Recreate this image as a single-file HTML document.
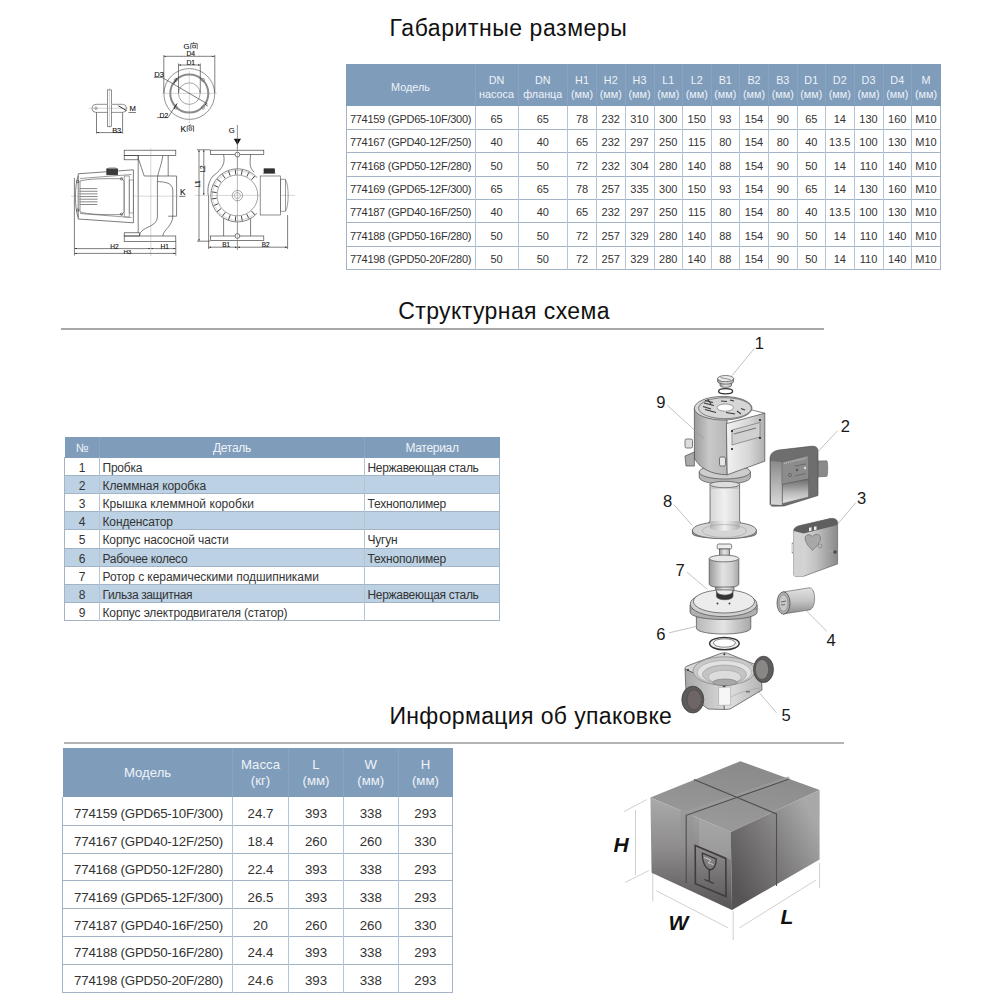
<!DOCTYPE html>
<html><head><meta charset="utf-8"><title>GPD</title><style>
*{margin:0;padding:0;box-sizing:border-box}
html,body{width:1000px;height:1000px;background:#fff;overflow:hidden}
body{position:relative;font-family:"Liberation Sans", sans-serif;color:#333}
.bg{position:absolute}
.c{position:absolute;display:flex;align-items:center;justify-content:center;text-align:center;white-space:nowrap}
.h1c{color:#eef3f9;font-size:10.8px;line-height:14.2px;padding-top:3.5px}
.d1{font-size:11px;padding-top:3px}
.d1m{font-size:11px;letter-spacing:-0.27px;padding-top:3px}
.h2c{color:#eef3f9;font-size:12px;letter-spacing:-0.3px;padding-top:1px}
.d2n{font-size:12px;padding-top:3px}
.d2l{font-size:12px;justify-content:flex-start;padding-left:3px;padding-top:3px}
.h3c{color:#eef3f9;font-size:13.2px;line-height:16px;padding-top:1px}
.d3{font-size:13.3px;padding-top:5px}
.d3m{font-size:13.3px;letter-spacing:-0.22px;padding-top:5px;padding-left:2px}
.t{position:absolute;text-align:center;font-size:23px;letter-spacing:0.3px;color:#111;line-height:28px;white-space:nowrap}
svg{position:absolute}
</style></head>
<body>
<div class="bg" style="left:346px;top:64px;width:594.5px;height:42px;background:#7f9cba"></div><div class="c h1c" style="left:346.0px;top:64.0px;width:129.0px;height:42.0px;">Модель</div><div class="c h1c" style="left:475.0px;top:64.0px;width:43.0px;height:42.0px;">DN<br>насоса</div><div class="c h1c" style="left:518.0px;top:64.0px;width:49.5px;height:42.0px;">DN<br>фланца</div><div class="c h1c" style="left:567.5px;top:64.0px;width:29.0px;height:42.0px;">H1<br>(мм)</div><div class="c h1c" style="left:596.5px;top:64.0px;width:28.5px;height:42.0px;">H2<br>(мм)</div><div class="c h1c" style="left:625.0px;top:64.0px;width:29.0px;height:42.0px;">H3<br>(мм)</div><div class="c h1c" style="left:654.0px;top:64.0px;width:28.5px;height:42.0px;">L1<br>(мм)</div><div class="c h1c" style="left:682.5px;top:64.0px;width:28.5px;height:42.0px;">L2<br>(мм)</div><div class="c h1c" style="left:711.0px;top:64.0px;width:28.5px;height:42.0px;">B1<br>(мм)</div><div class="c h1c" style="left:739.5px;top:64.0px;width:29.0px;height:42.0px;">B2<br>(мм)</div><div class="c h1c" style="left:768.5px;top:64.0px;width:28.5px;height:42.0px;">B3<br>(мм)</div><div class="c h1c" style="left:797.0px;top:64.0px;width:28.5px;height:42.0px;">D1<br>(мм)</div><div class="c h1c" style="left:825.5px;top:64.0px;width:28.5px;height:42.0px;">D2<br>(мм)</div><div class="c h1c" style="left:854.0px;top:64.0px;width:29.0px;height:42.0px;">D3<br>(мм)</div><div class="c h1c" style="left:883.0px;top:64.0px;width:28.5px;height:42.0px;">D4<br>(мм)</div><div class="c h1c" style="left:911.5px;top:64.0px;width:29.0px;height:42.0px;">M<br>(мм)</div><div class="bg" style="left:475px;top:64px;width:1px;height:42px;background:#8aa5c4"></div><div class="bg" style="left:518px;top:64px;width:1px;height:42px;background:#8aa5c4"></div><div class="bg" style="left:567px;top:64px;width:1px;height:42px;background:#8aa5c4"></div><div class="bg" style="left:596px;top:64px;width:1px;height:42px;background:#8aa5c4"></div><div class="bg" style="left:625px;top:64px;width:1px;height:42px;background:#8aa5c4"></div><div class="bg" style="left:654px;top:64px;width:1px;height:42px;background:#8aa5c4"></div><div class="bg" style="left:682px;top:64px;width:1px;height:42px;background:#8aa5c4"></div><div class="bg" style="left:711px;top:64px;width:1px;height:42px;background:#8aa5c4"></div><div class="bg" style="left:739px;top:64px;width:1px;height:42px;background:#8aa5c4"></div><div class="bg" style="left:768px;top:64px;width:1px;height:42px;background:#8aa5c4"></div><div class="bg" style="left:797px;top:64px;width:1px;height:42px;background:#8aa5c4"></div><div class="bg" style="left:825px;top:64px;width:1px;height:42px;background:#8aa5c4"></div><div class="bg" style="left:854px;top:64px;width:1px;height:42px;background:#8aa5c4"></div><div class="bg" style="left:883px;top:64px;width:1px;height:42px;background:#8aa5c4"></div><div class="bg" style="left:911px;top:64px;width:1px;height:42px;background:#8aa5c4"></div><div class="bg" style="left:346px;top:129px;width:595px;height:1px;background:#a3b4c6"></div><div class="bg" style="left:346px;top:152px;width:595px;height:1px;background:#a3b4c6"></div><div class="bg" style="left:346px;top:176px;width:595px;height:1px;background:#a3b4c6"></div><div class="bg" style="left:346px;top:199px;width:595px;height:1px;background:#a3b4c6"></div><div class="bg" style="left:346px;top:222px;width:595px;height:1px;background:#a3b4c6"></div><div class="bg" style="left:346px;top:246px;width:595px;height:1px;background:#a3b4c6"></div><div class="bg" style="left:346px;top:269px;width:595px;height:1px;background:#a3b4c6"></div><div class="bg" style="left:346px;top:106px;width:1px;height:164px;background:#a3b4c6"></div><div class="bg" style="left:475px;top:106px;width:1px;height:164px;background:#b3c4d4"></div><div class="bg" style="left:518px;top:106px;width:1px;height:164px;background:#b3c4d4"></div><div class="bg" style="left:567px;top:106px;width:1px;height:164px;background:#b3c4d4"></div><div class="bg" style="left:596px;top:106px;width:1px;height:164px;background:#b3c4d4"></div><div class="bg" style="left:625px;top:106px;width:1px;height:164px;background:#b3c4d4"></div><div class="bg" style="left:654px;top:106px;width:1px;height:164px;background:#b3c4d4"></div><div class="bg" style="left:682px;top:106px;width:1px;height:164px;background:#b3c4d4"></div><div class="bg" style="left:711px;top:106px;width:1px;height:164px;background:#b3c4d4"></div><div class="bg" style="left:739px;top:106px;width:1px;height:164px;background:#b3c4d4"></div><div class="bg" style="left:768px;top:106px;width:1px;height:164px;background:#b3c4d4"></div><div class="bg" style="left:797px;top:106px;width:1px;height:164px;background:#b3c4d4"></div><div class="bg" style="left:825px;top:106px;width:1px;height:164px;background:#b3c4d4"></div><div class="bg" style="left:854px;top:106px;width:1px;height:164px;background:#b3c4d4"></div><div class="bg" style="left:883px;top:106px;width:1px;height:164px;background:#b3c4d4"></div><div class="bg" style="left:911px;top:106px;width:1px;height:164px;background:#b3c4d4"></div><div class="bg" style="left:940px;top:106px;width:1px;height:164px;background:#a3b4c6"></div><div class="c d1m" style="left:346.0px;top:106.0px;width:129.0px;height:23.0px;">774159 (GPD65-10F/300)</div><div class="c d1" style="left:475.0px;top:106.0px;width:43.0px;height:23.0px;">65</div><div class="c d1" style="left:518.0px;top:106.0px;width:49.5px;height:23.0px;">65</div><div class="c d1" style="left:567.5px;top:106.0px;width:29.0px;height:23.0px;">78</div><div class="c d1" style="left:596.5px;top:106.0px;width:28.5px;height:23.0px;">232</div><div class="c d1" style="left:625.0px;top:106.0px;width:29.0px;height:23.0px;">310</div><div class="c d1" style="left:654.0px;top:106.0px;width:28.5px;height:23.0px;">300</div><div class="c d1" style="left:682.5px;top:106.0px;width:28.5px;height:23.0px;">150</div><div class="c d1" style="left:711.0px;top:106.0px;width:28.5px;height:23.0px;">93</div><div class="c d1" style="left:739.5px;top:106.0px;width:29.0px;height:23.0px;">154</div><div class="c d1" style="left:768.5px;top:106.0px;width:28.5px;height:23.0px;">90</div><div class="c d1" style="left:797.0px;top:106.0px;width:28.5px;height:23.0px;">65</div><div class="c d1" style="left:825.5px;top:106.0px;width:28.5px;height:23.0px;">14</div><div class="c d1" style="left:854.0px;top:106.0px;width:29.0px;height:23.0px;">130</div><div class="c d1" style="left:883.0px;top:106.0px;width:28.5px;height:23.0px;">160</div><div class="c d1" style="left:911.5px;top:106.0px;width:29.0px;height:23.0px;">M10</div><div class="c d1m" style="left:346.0px;top:129.0px;width:129.0px;height:23.5px;">774167 (GPD40-12F/250)</div><div class="c d1" style="left:475.0px;top:129.0px;width:43.0px;height:23.5px;">40</div><div class="c d1" style="left:518.0px;top:129.0px;width:49.5px;height:23.5px;">40</div><div class="c d1" style="left:567.5px;top:129.0px;width:29.0px;height:23.5px;">65</div><div class="c d1" style="left:596.5px;top:129.0px;width:28.5px;height:23.5px;">232</div><div class="c d1" style="left:625.0px;top:129.0px;width:29.0px;height:23.5px;">297</div><div class="c d1" style="left:654.0px;top:129.0px;width:28.5px;height:23.5px;">250</div><div class="c d1" style="left:682.5px;top:129.0px;width:28.5px;height:23.5px;">115</div><div class="c d1" style="left:711.0px;top:129.0px;width:28.5px;height:23.5px;">80</div><div class="c d1" style="left:739.5px;top:129.0px;width:29.0px;height:23.5px;">154</div><div class="c d1" style="left:768.5px;top:129.0px;width:28.5px;height:23.5px;">80</div><div class="c d1" style="left:797.0px;top:129.0px;width:28.5px;height:23.5px;">40</div><div class="c d1" style="left:825.5px;top:129.0px;width:28.5px;height:23.5px;">13.5</div><div class="c d1" style="left:854.0px;top:129.0px;width:29.0px;height:23.5px;">100</div><div class="c d1" style="left:883.0px;top:129.0px;width:28.5px;height:23.5px;">130</div><div class="c d1" style="left:911.5px;top:129.0px;width:29.0px;height:23.5px;">M10</div><div class="c d1m" style="left:346.0px;top:152.5px;width:129.0px;height:23.5px;">774168 (GPD50-12F/280)</div><div class="c d1" style="left:475.0px;top:152.5px;width:43.0px;height:23.5px;">50</div><div class="c d1" style="left:518.0px;top:152.5px;width:49.5px;height:23.5px;">50</div><div class="c d1" style="left:567.5px;top:152.5px;width:29.0px;height:23.5px;">72</div><div class="c d1" style="left:596.5px;top:152.5px;width:28.5px;height:23.5px;">232</div><div class="c d1" style="left:625.0px;top:152.5px;width:29.0px;height:23.5px;">304</div><div class="c d1" style="left:654.0px;top:152.5px;width:28.5px;height:23.5px;">280</div><div class="c d1" style="left:682.5px;top:152.5px;width:28.5px;height:23.5px;">140</div><div class="c d1" style="left:711.0px;top:152.5px;width:28.5px;height:23.5px;">88</div><div class="c d1" style="left:739.5px;top:152.5px;width:29.0px;height:23.5px;">154</div><div class="c d1" style="left:768.5px;top:152.5px;width:28.5px;height:23.5px;">90</div><div class="c d1" style="left:797.0px;top:152.5px;width:28.5px;height:23.5px;">50</div><div class="c d1" style="left:825.5px;top:152.5px;width:28.5px;height:23.5px;">14</div><div class="c d1" style="left:854.0px;top:152.5px;width:29.0px;height:23.5px;">110</div><div class="c d1" style="left:883.0px;top:152.5px;width:28.5px;height:23.5px;">140</div><div class="c d1" style="left:911.5px;top:152.5px;width:29.0px;height:23.5px;">M10</div><div class="c d1m" style="left:346.0px;top:176.0px;width:129.0px;height:23.3px;">774169 (GPD65-12F/300)</div><div class="c d1" style="left:475.0px;top:176.0px;width:43.0px;height:23.3px;">65</div><div class="c d1" style="left:518.0px;top:176.0px;width:49.5px;height:23.3px;">65</div><div class="c d1" style="left:567.5px;top:176.0px;width:29.0px;height:23.3px;">78</div><div class="c d1" style="left:596.5px;top:176.0px;width:28.5px;height:23.3px;">257</div><div class="c d1" style="left:625.0px;top:176.0px;width:29.0px;height:23.3px;">335</div><div class="c d1" style="left:654.0px;top:176.0px;width:28.5px;height:23.3px;">300</div><div class="c d1" style="left:682.5px;top:176.0px;width:28.5px;height:23.3px;">150</div><div class="c d1" style="left:711.0px;top:176.0px;width:28.5px;height:23.3px;">93</div><div class="c d1" style="left:739.5px;top:176.0px;width:29.0px;height:23.3px;">154</div><div class="c d1" style="left:768.5px;top:176.0px;width:28.5px;height:23.3px;">90</div><div class="c d1" style="left:797.0px;top:176.0px;width:28.5px;height:23.3px;">65</div><div class="c d1" style="left:825.5px;top:176.0px;width:28.5px;height:23.3px;">14</div><div class="c d1" style="left:854.0px;top:176.0px;width:29.0px;height:23.3px;">130</div><div class="c d1" style="left:883.0px;top:176.0px;width:28.5px;height:23.3px;">160</div><div class="c d1" style="left:911.5px;top:176.0px;width:29.0px;height:23.3px;">M10</div><div class="c d1m" style="left:346.0px;top:199.3px;width:129.0px;height:23.3px;">774187 (GPD40-16F/250)</div><div class="c d1" style="left:475.0px;top:199.3px;width:43.0px;height:23.3px;">40</div><div class="c d1" style="left:518.0px;top:199.3px;width:49.5px;height:23.3px;">40</div><div class="c d1" style="left:567.5px;top:199.3px;width:29.0px;height:23.3px;">65</div><div class="c d1" style="left:596.5px;top:199.3px;width:28.5px;height:23.3px;">232</div><div class="c d1" style="left:625.0px;top:199.3px;width:29.0px;height:23.3px;">297</div><div class="c d1" style="left:654.0px;top:199.3px;width:28.5px;height:23.3px;">250</div><div class="c d1" style="left:682.5px;top:199.3px;width:28.5px;height:23.3px;">115</div><div class="c d1" style="left:711.0px;top:199.3px;width:28.5px;height:23.3px;">80</div><div class="c d1" style="left:739.5px;top:199.3px;width:29.0px;height:23.3px;">154</div><div class="c d1" style="left:768.5px;top:199.3px;width:28.5px;height:23.3px;">80</div><div class="c d1" style="left:797.0px;top:199.3px;width:28.5px;height:23.3px;">40</div><div class="c d1" style="left:825.5px;top:199.3px;width:28.5px;height:23.3px;">13.5</div><div class="c d1" style="left:854.0px;top:199.3px;width:29.0px;height:23.3px;">100</div><div class="c d1" style="left:883.0px;top:199.3px;width:28.5px;height:23.3px;">130</div><div class="c d1" style="left:911.5px;top:199.3px;width:29.0px;height:23.3px;">M10</div><div class="c d1m" style="left:346.0px;top:222.6px;width:129.0px;height:23.4px;">774188 (GPD50-16F/280)</div><div class="c d1" style="left:475.0px;top:222.6px;width:43.0px;height:23.4px;">50</div><div class="c d1" style="left:518.0px;top:222.6px;width:49.5px;height:23.4px;">50</div><div class="c d1" style="left:567.5px;top:222.6px;width:29.0px;height:23.4px;">72</div><div class="c d1" style="left:596.5px;top:222.6px;width:28.5px;height:23.4px;">257</div><div class="c d1" style="left:625.0px;top:222.6px;width:29.0px;height:23.4px;">329</div><div class="c d1" style="left:654.0px;top:222.6px;width:28.5px;height:23.4px;">280</div><div class="c d1" style="left:682.5px;top:222.6px;width:28.5px;height:23.4px;">140</div><div class="c d1" style="left:711.0px;top:222.6px;width:28.5px;height:23.4px;">88</div><div class="c d1" style="left:739.5px;top:222.6px;width:29.0px;height:23.4px;">154</div><div class="c d1" style="left:768.5px;top:222.6px;width:28.5px;height:23.4px;">90</div><div class="c d1" style="left:797.0px;top:222.6px;width:28.5px;height:23.4px;">50</div><div class="c d1" style="left:825.5px;top:222.6px;width:28.5px;height:23.4px;">14</div><div class="c d1" style="left:854.0px;top:222.6px;width:29.0px;height:23.4px;">110</div><div class="c d1" style="left:883.0px;top:222.6px;width:28.5px;height:23.4px;">140</div><div class="c d1" style="left:911.5px;top:222.6px;width:29.0px;height:23.4px;">M10</div><div class="c d1m" style="left:346.0px;top:246.0px;width:129.0px;height:23.3px;">774198 (GPD50-20F/280)</div><div class="c d1" style="left:475.0px;top:246.0px;width:43.0px;height:23.3px;">50</div><div class="c d1" style="left:518.0px;top:246.0px;width:49.5px;height:23.3px;">50</div><div class="c d1" style="left:567.5px;top:246.0px;width:29.0px;height:23.3px;">72</div><div class="c d1" style="left:596.5px;top:246.0px;width:28.5px;height:23.3px;">257</div><div class="c d1" style="left:625.0px;top:246.0px;width:29.0px;height:23.3px;">329</div><div class="c d1" style="left:654.0px;top:246.0px;width:28.5px;height:23.3px;">280</div><div class="c d1" style="left:682.5px;top:246.0px;width:28.5px;height:23.3px;">140</div><div class="c d1" style="left:711.0px;top:246.0px;width:28.5px;height:23.3px;">88</div><div class="c d1" style="left:739.5px;top:246.0px;width:29.0px;height:23.3px;">154</div><div class="c d1" style="left:768.5px;top:246.0px;width:28.5px;height:23.3px;">90</div><div class="c d1" style="left:797.0px;top:246.0px;width:28.5px;height:23.3px;">50</div><div class="c d1" style="left:825.5px;top:246.0px;width:28.5px;height:23.3px;">14</div><div class="c d1" style="left:854.0px;top:246.0px;width:29.0px;height:23.3px;">110</div><div class="c d1" style="left:883.0px;top:246.0px;width:28.5px;height:23.3px;">140</div><div class="c d1" style="left:911.5px;top:246.0px;width:29.0px;height:23.3px;">M10</div><div class="bg" style="left:64.5px;top:437px;width:435.0px;height:20.5px;background:#7f9cba"></div><div class="c h2c" style="left:64.5px;top:437.0px;width:35.0px;height:20.5px;">№</div><div class="c h2c" style="left:99.5px;top:437.0px;width:265.0px;height:20.5px;">Деталь</div><div class="c h2c" style="left:364.5px;top:437.0px;width:135.0px;height:20.5px;">Материал</div><div class="bg" style="left:99px;top:437px;width:1px;height:20px;background:#8aa5c4"></div><div class="bg" style="left:364px;top:437px;width:1px;height:20px;background:#8aa5c4"></div><div class="bg" style="left:64.5px;top:475.6px;width:435.0px;height:18.1px;background:#bcd1e3"></div><div class="bg" style="left:64.5px;top:511.8px;width:435.0px;height:18.1px;background:#bcd1e3"></div><div class="bg" style="left:64.5px;top:548.0px;width:435.0px;height:18.1px;background:#bcd1e3"></div><div class="bg" style="left:64.5px;top:584.2px;width:435.0px;height:18.1px;background:#bcd1e3"></div><div class="bg" style="left:64px;top:475px;width:436px;height:1px;background:#a3b4c6"></div><div class="bg" style="left:64px;top:493px;width:436px;height:1px;background:#a3b4c6"></div><div class="bg" style="left:64px;top:511px;width:436px;height:1px;background:#a3b4c6"></div><div class="bg" style="left:64px;top:529px;width:436px;height:1px;background:#a3b4c6"></div><div class="bg" style="left:64px;top:548px;width:436px;height:1px;background:#a3b4c6"></div><div class="bg" style="left:64px;top:566px;width:436px;height:1px;background:#a3b4c6"></div><div class="bg" style="left:64px;top:584px;width:436px;height:1px;background:#a3b4c6"></div><div class="bg" style="left:64px;top:602px;width:436px;height:1px;background:#a3b4c6"></div><div class="bg" style="left:64px;top:620px;width:436px;height:1px;background:#a3b4c6"></div><div class="bg" style="left:64px;top:457px;width:1px;height:164px;background:#a3b4c6"></div><div class="bg" style="left:99px;top:457px;width:1px;height:164px;background:#b3c4d4"></div><div class="bg" style="left:364px;top:457px;width:1px;height:164px;background:#b3c4d4"></div><div class="bg" style="left:499px;top:457px;width:1px;height:164px;background:#a3b4c6"></div><div class="c d2n" style="left:64.5px;top:457.5px;width:35.0px;height:18.1px;">1</div><div class="c d2l" style="left:99.5px;top:457.5px;width:265.0px;height:18.1px;letter-spacing:-0.24px">Пробка</div><div class="c d2l" style="left:364.5px;top:457.5px;width:135.0px;height:18.1px;letter-spacing:-0.31px">Нержавеющая сталь</div><div class="c d2n" style="left:64.5px;top:475.6px;width:35.0px;height:18.1px;">2</div><div class="c d2l" style="left:99.5px;top:475.6px;width:265.0px;height:18.1px;letter-spacing:-0.07px">Клеммная коробка</div><div class="c d2l" style="left:364.5px;top:475.6px;width:135.0px;height:18.1px;letter-spacing:0px"></div><div class="c d2n" style="left:64.5px;top:493.7px;width:35.0px;height:18.1px;">3</div><div class="c d2l" style="left:99.5px;top:493.7px;width:265.0px;height:18.1px;letter-spacing:0.04px">Крышка клеммной коробки</div><div class="c d2l" style="left:364.5px;top:493.7px;width:135.0px;height:18.1px;letter-spacing:-0.17px">Технополимер</div><div class="c d2n" style="left:64.5px;top:511.8px;width:35.0px;height:18.1px;">4</div><div class="c d2l" style="left:99.5px;top:511.8px;width:265.0px;height:18.1px;letter-spacing:-0.12px">Конденсатор</div><div class="c d2l" style="left:364.5px;top:511.8px;width:135.0px;height:18.1px;letter-spacing:0px"></div><div class="c d2n" style="left:64.5px;top:529.9px;width:35.0px;height:18.1px;">5</div><div class="c d2l" style="left:99.5px;top:529.9px;width:265.0px;height:18.1px;letter-spacing:-0.12px">Корпус насосной части</div><div class="c d2l" style="left:364.5px;top:529.9px;width:135.0px;height:18.1px;letter-spacing:-0.2px">Чугун</div><div class="c d2n" style="left:64.5px;top:548.0px;width:35.0px;height:18.1px;">6</div><div class="c d2l" style="left:99.5px;top:548.0px;width:265.0px;height:18.1px;letter-spacing:-0.28px">Рабочее колесо</div><div class="c d2l" style="left:364.5px;top:548.0px;width:135.0px;height:18.1px;letter-spacing:-0.17px">Технополимер</div><div class="c d2n" style="left:64.5px;top:566.1px;width:35.0px;height:18.1px;">7</div><div class="c d2l" style="left:99.5px;top:566.1px;width:265.0px;height:18.1px;letter-spacing:-0.05px">Ротор с керамическими подшипниками</div><div class="c d2l" style="left:364.5px;top:566.1px;width:135.0px;height:18.1px;letter-spacing:0px"></div><div class="c d2n" style="left:64.5px;top:584.2px;width:35.0px;height:18.1px;">8</div><div class="c d2l" style="left:99.5px;top:584.2px;width:265.0px;height:18.1px;letter-spacing:-0.38px">Гильза защитная</div><div class="c d2l" style="left:364.5px;top:584.2px;width:135.0px;height:18.1px;letter-spacing:-0.31px">Нержавеющая сталь</div><div class="c d2n" style="left:64.5px;top:602.3px;width:35.0px;height:18.1px;">9</div><div class="c d2l" style="left:99.5px;top:602.3px;width:265.0px;height:18.1px;letter-spacing:-0.13px">Корпус электродвигателя (статор)</div><div class="c d2l" style="left:364.5px;top:602.3px;width:135.0px;height:18.1px;letter-spacing:0px"></div><div class="bg" style="left:62.5px;top:748px;width:390.3px;height:49.4px;background:#7f9cba"></div><div class="c h3c" style="left:62.5px;top:748.0px;width:170.1px;height:49.4px;">Модель</div><div class="c h3c" style="left:232.6px;top:748.0px;width:55.8px;height:49.4px;">Масса<br>(кг)</div><div class="c h3c" style="left:288.4px;top:748.0px;width:55.2px;height:49.4px;">L<br>(мм)</div><div class="c h3c" style="left:343.6px;top:748.0px;width:54.4px;height:49.4px;">W<br>(мм)</div><div class="c h3c" style="left:398.0px;top:748.0px;width:54.8px;height:49.4px;">H<br>(мм)</div><div class="bg" style="left:232px;top:748px;width:1px;height:49px;background:#8aa5c4"></div><div class="bg" style="left:288px;top:748px;width:1px;height:49px;background:#8aa5c4"></div><div class="bg" style="left:343px;top:748px;width:1px;height:49px;background:#8aa5c4"></div><div class="bg" style="left:398px;top:748px;width:1px;height:49px;background:#8aa5c4"></div><div class="bg" style="left:62px;top:825px;width:391px;height:1px;background:#a3b4c6"></div><div class="bg" style="left:62px;top:853px;width:391px;height:1px;background:#a3b4c6"></div><div class="bg" style="left:62px;top:880px;width:391px;height:1px;background:#a3b4c6"></div><div class="bg" style="left:62px;top:908px;width:391px;height:1px;background:#a3b4c6"></div><div class="bg" style="left:62px;top:936px;width:391px;height:1px;background:#a3b4c6"></div><div class="bg" style="left:62px;top:964px;width:391px;height:1px;background:#a3b4c6"></div><div class="bg" style="left:62px;top:992px;width:391px;height:1px;background:#a3b4c6"></div><div class="bg" style="left:62px;top:797px;width:1px;height:196px;background:#a3b4c6"></div><div class="bg" style="left:232px;top:797px;width:1px;height:196px;background:#b3c4d4"></div><div class="bg" style="left:288px;top:797px;width:1px;height:196px;background:#b3c4d4"></div><div class="bg" style="left:343px;top:797px;width:1px;height:196px;background:#b3c4d4"></div><div class="bg" style="left:398px;top:797px;width:1px;height:196px;background:#b3c4d4"></div><div class="bg" style="left:452px;top:797px;width:1px;height:196px;background:#a3b4c6"></div><div class="c d3m" style="left:62.5px;top:797.4px;width:170.1px;height:27.8px;">774159 (GPD65-10F/300)</div><div class="c d3" style="left:232.6px;top:797.4px;width:55.8px;height:27.8px;">24.7</div><div class="c d3" style="left:288.4px;top:797.4px;width:55.2px;height:27.8px;">393</div><div class="c d3" style="left:343.6px;top:797.4px;width:54.4px;height:27.8px;">338</div><div class="c d3" style="left:398.0px;top:797.4px;width:54.8px;height:27.8px;">293</div><div class="c d3m" style="left:62.5px;top:825.2px;width:170.1px;height:27.8px;">774167 (GPD40-12F/250)</div><div class="c d3" style="left:232.6px;top:825.2px;width:55.8px;height:27.8px;">18.4</div><div class="c d3" style="left:288.4px;top:825.2px;width:55.2px;height:27.8px;">260</div><div class="c d3" style="left:343.6px;top:825.2px;width:54.4px;height:27.8px;">260</div><div class="c d3" style="left:398.0px;top:825.2px;width:54.8px;height:27.8px;">330</div><div class="c d3m" style="left:62.5px;top:853.0px;width:170.1px;height:27.8px;">774168 (GPD50-12F/280)</div><div class="c d3" style="left:232.6px;top:853.0px;width:55.8px;height:27.8px;">22.4</div><div class="c d3" style="left:288.4px;top:853.0px;width:55.2px;height:27.8px;">393</div><div class="c d3" style="left:343.6px;top:853.0px;width:54.4px;height:27.8px;">338</div><div class="c d3" style="left:398.0px;top:853.0px;width:54.8px;height:27.8px;">293</div><div class="c d3m" style="left:62.5px;top:880.8px;width:170.1px;height:27.8px;">774169 (GPD65-12F/300)</div><div class="c d3" style="left:232.6px;top:880.8px;width:55.8px;height:27.8px;">26.5</div><div class="c d3" style="left:288.4px;top:880.8px;width:55.2px;height:27.8px;">393</div><div class="c d3" style="left:343.6px;top:880.8px;width:54.4px;height:27.8px;">338</div><div class="c d3" style="left:398.0px;top:880.8px;width:54.8px;height:27.8px;">293</div><div class="c d3m" style="left:62.5px;top:908.7px;width:170.1px;height:27.8px;">774187 (GPD40-16F/250)</div><div class="c d3" style="left:232.6px;top:908.7px;width:55.8px;height:27.8px;">20</div><div class="c d3" style="left:288.4px;top:908.7px;width:55.2px;height:27.8px;">260</div><div class="c d3" style="left:343.6px;top:908.7px;width:54.4px;height:27.8px;">260</div><div class="c d3" style="left:398.0px;top:908.7px;width:54.8px;height:27.8px;">330</div><div class="c d3m" style="left:62.5px;top:936.5px;width:170.1px;height:27.8px;">774188 (GPD50-16F/280)</div><div class="c d3" style="left:232.6px;top:936.5px;width:55.8px;height:27.8px;">24.4</div><div class="c d3" style="left:288.4px;top:936.5px;width:55.2px;height:27.8px;">393</div><div class="c d3" style="left:343.6px;top:936.5px;width:54.4px;height:27.8px;">338</div><div class="c d3" style="left:398.0px;top:936.5px;width:54.8px;height:27.8px;">293</div><div class="c d3m" style="left:62.5px;top:964.3px;width:170.1px;height:27.8px;">774198 (GPD50-20F/280)</div><div class="c d3" style="left:232.6px;top:964.3px;width:55.8px;height:27.8px;">24.6</div><div class="c d3" style="left:288.4px;top:964.3px;width:55.2px;height:27.8px;">393</div><div class="c d3" style="left:343.6px;top:964.3px;width:54.4px;height:27.8px;">338</div><div class="c d3" style="left:398.0px;top:964.3px;width:54.8px;height:27.8px;">293</div><div class="t" style="left:389.6px;top:14px;letter-spacing:0.55px">Габаритные размеры</div><div class="t" style="left:398.2px;top:297px;letter-spacing:0.41px">Структурная схема</div><div class="t" style="left:389.4px;top:701.5px;letter-spacing:0.37px">Информация об упаковке</div><div class="bg" style="left:61px;top:328px;width:763px;height:1.5px;background:#a8a8a8"></div><div class="bg" style="left:64px;top:742px;width:780px;height:2px;background:#b4b4b4"></div>
<svg style="left:0;top:0" width="1000" height="1000" viewBox="0 0 1000 1000">
<defs>
<marker id="ar" viewBox="0 0 6 4" refX="6" refY="2" markerWidth="4" markerHeight="2.4" orient="auto-start-reverse"><path d="M0,0 L6,2 L0,4 z" fill="#333"/></marker>
</defs>
<g fill="none" stroke="#3a3a3a" stroke-width="0.65" font-family="Liberation Sans, sans-serif">
<!-- ===== K-view flange ===== -->
<circle cx="189.3" cy="94" r="25.4" stroke="#666" stroke-width="0.7"/>
<circle cx="189.3" cy="93.6" r="19" stroke="#8a8a8a" stroke-width="2"/>
<circle cx="189.3" cy="93.6" r="10.8" stroke="#777"/>
<g stroke="#666" stroke-width="0.6">
<circle cx="175.8" cy="80" r="1.6"/><circle cx="203" cy="80" r="1.6"/>
<circle cx="175.8" cy="107.5" r="1.6"/><circle cx="203" cy="107.5" r="1.6"/>
</g>
<g stroke="#999" stroke-width="0.4">
<line x1="162" y1="93.4" x2="217" y2="93.4"/>
<line x1="189.3" y1="71" x2="189.3" y2="123"/>
</g>
<!-- D4 -->
<line x1="163.8" y1="55" x2="163.8" y2="93"/>
<line x1="214.8" y1="55" x2="214.8" y2="93"/>
<line x1="164" y1="56.3" x2="214.6" y2="56.3" marker-start="url(#ar)" marker-end="url(#ar)"/>
<!-- D1 -->
<line x1="178.5" y1="63.5" x2="178.5" y2="93"/>
<line x1="200.3" y1="63.5" x2="200.3" y2="93"/>
<line x1="178.7" y1="65" x2="200.1" y2="65" marker-start="url(#ar)" marker-end="url(#ar)"/>
<!-- D3 leader -->
<polyline points="154,77.4 162,77.4 207.5,104"/>
<!-- D2 leader -->
<polyline points="157,117.6 168,117.6 176.5,104"/>
<line x1="174" y1="109" x2="177" y2="103.5" stroke-width="1"/>
<line x1="174" y1="83.5" x2="177" y2="78" stroke-width="1"/>
<line x1="205" y1="104" x2="207.5" y2="106" stroke-width="1"/>
<!-- ===== M / B3 detail ===== -->
<rect x="92" y="104.3" width="34.5" height="8.1" rx="4" stroke="#555"/>
<rect x="107.6" y="89.9" width="3.9" height="36.6" fill="#fff" stroke="#555"/>
<line x1="107.6" y1="104.3" x2="111.5" y2="104.3" stroke="#fff" stroke-width="0.8"/>
<line x1="96.5" y1="112.4" x2="96.5" y2="133.5"/>
<line x1="122.6" y1="112.4" x2="122.6" y2="133.5"/>
<line x1="96.7" y1="132.6" x2="122.4" y2="132.6" marker-start="url(#ar)" marker-end="url(#ar)"/>
<line x1="89" y1="108.3" x2="128" y2="108.3" stroke="#999" stroke-width="0.4"/>
<line x1="109.5" y1="88" x2="109.5" y2="128" stroke="#999" stroke-width="0.4"/>
<circle cx="96" cy="108.3" r="1.2" stroke="#666"/>
<line x1="118.4" y1="105.8" x2="126.5" y2="110.6" stroke="#333" stroke-width="1"/>
<line x1="128.5" y1="112.5" x2="136" y2="112.5"/>
<!-- ===== Left side view ===== -->
<rect x="124.2" y="150.2" width="51.6" height="5.4" fill="#fff"/>
<rect x="124.2" y="155.6" width="14" height="4.2"/>
<rect x="124.2" y="236" width="51.6" height="5.4" fill="#fff"/>
<rect x="124.2" y="232.8" width="15.2" height="3.2"/>
<line x1="138.2" y1="155.6" x2="138.2" y2="233"/>
<polyline points="168.2,155.6 168.2,176 176.6,176 176.6,216.2 168.2,216.2"/>
<polyline points="138.8,159.8 144.2,176 168.2,176"/>
<path d="M162.8,155.8 C161,168 157.4,172 157.4,181 L157.4,217 C157.4,228 140,226 139.4,236"/>
<path d="M157.6,181.5 C163,182 172.5,182 172.8,190 L172.8,216 C172.8,226 163,230 162.8,236"/>
<line x1="150.8" y1="148" x2="150.8" y2="256" stroke="#999" stroke-width="0.4"/>
<line x1="70.8" y1="196.2" x2="182" y2="196.2" stroke="#999" stroke-width="0.4"/>
<!-- motor -->
<path d="M78.2,173.8 L133.4,169.8 L133.4,222.8 L78.2,219 Z" fill="#fff" stroke="#444" stroke-width="0.7"/>
<path d="M78.2,176 C74.5,185 74.5,208 78.2,217.5" stroke="#444"/>
<path d="M80,178.5 L131.5,174.5 M80,213.5 L131.5,217.5" stroke="#666"/>
<path d="M80,181 C88,178.8 105,178.3 122,178.8 L124,181 L124,212 L122,214.5 C105,215 88,214.5 80,212 Z" stroke="#555"/>
<rect x="124.2" y="176" width="5" height="41" stroke="#777"/>
<rect x="129.2" y="180" width="4.2" height="33" stroke="#777"/>
<rect x="106.8" y="168.8" width="10.8" height="6" fill="#3a3a3a" stroke="#222"/>
<rect x="108.5" y="167.5" width="7.5" height="1.6" fill="#888" stroke="none"/>
<g stroke="#888" stroke-width="1">
<line x1="79.6" y1="188.60" x2="97.2" y2="188.60"/>
<line x1="79.2" y1="191.25" x2="97.6" y2="191.25"/>
<line x1="79.2" y1="193.90" x2="97.6" y2="193.90"/>
<line x1="79.2" y1="196.55" x2="97.6" y2="196.55"/>
<line x1="79.2" y1="199.20" x2="97.6" y2="199.20"/>
<line x1="79.2" y1="201.85" x2="97.6" y2="201.85"/>
<line x1="79.6" y1="204.50" x2="97.2" y2="204.50"/>
</g>
<circle cx="77.8" cy="181.5" r="1.2"/><circle cx="77.8" cy="210" r="1.2"/>
<circle cx="121.6" cy="178.8" r="1.2"/><circle cx="121.6" cy="214.2" r="1.2"/>
<!-- dims -->
<line x1="74.4" y1="178" x2="74.4" y2="255.5"/>
<line x1="175.8" y1="241.4" x2="175.8" y2="255.5"/>
<line x1="74.6" y1="248.6" x2="150.6" y2="248.6" marker-start="url(#ar)" marker-end="url(#ar)"/>
<line x1="151" y1="248.6" x2="175.6" y2="248.6" marker-start="url(#ar)" marker-end="url(#ar)"/>
<line x1="74.6" y1="253.4" x2="175.6" y2="253.4" marker-start="url(#ar)" marker-end="url(#ar)"/>
<line x1="179.5" y1="196.4" x2="185.5" y2="196.4"/>
<!-- ===== Right side view ===== -->
<line x1="237.4" y1="125" x2="237.4" y2="250" stroke="#777" stroke-width="0.5"/>
<path d="M233.8,138.8 L241,138.8 L237.4,145 Z" fill="#111" stroke="none"/>
<rect x="210.4" y="150.2" width="53.4" height="4.4" fill="#fff"/>
<rect x="210.4" y="236" width="53.4" height="4.6" fill="#fff"/>
<circle cx="237.4" cy="154.6" r="2.4" fill="#fff" stroke="#555" stroke-width="0.8"/>
<circle cx="237.4" cy="236" r="2.4" fill="#fff" stroke="#555" stroke-width="0.8"/>
<path d="M223.6,154.6 C225,162 224,168 213,176 C208,182 207,190 208.6,197"/>
<path d="M250.6,154.6 C250,163 249,167 254,172"/>
<line x1="223.6" y1="218" x2="223.6" y2="236"/>
<line x1="250.6" y1="218" x2="250.6" y2="236"/>
<path d="M257.17,177.60 A26.6,26.6 0 1 0 257.17,213.20" fill="#fff" stroke="#555" stroke-width="0.7"/>
<circle cx="237.4" cy="195.4" r="20.4" fill="#fff" stroke="#666" stroke-width="0.6"/>
<line x1="251.45" y1="179.79" x2="254.80" y2="176.08" stroke="#444" stroke-width="1"/>
<line x1="246.76" y1="176.60" x2="248.99" y2="172.13" stroke="#444" stroke-width="1"/>
<line x1="241.39" y1="174.78" x2="242.33" y2="169.87" stroke="#444" stroke-width="1"/>
<line x1="235.72" y1="174.47" x2="235.32" y2="169.48" stroke="#444" stroke-width="1"/>
<line x1="230.18" y1="175.68" x2="228.46" y2="170.99" stroke="#444" stroke-width="1"/>
<line x1="225.16" y1="178.33" x2="222.25" y2="174.27" stroke="#444" stroke-width="1"/>
<line x1="221.04" y1="182.23" x2="217.14" y2="179.10" stroke="#444" stroke-width="1"/>
<line x1="218.11" y1="187.10" x2="213.52" y2="185.12" stroke="#444" stroke-width="1"/>
<line x1="216.59" y1="192.56" x2="211.64" y2="191.89" stroke="#444" stroke-width="1"/>
<line x1="216.59" y1="198.24" x2="211.64" y2="198.91" stroke="#444" stroke-width="1"/>
<line x1="218.11" y1="203.70" x2="213.52" y2="205.68" stroke="#444" stroke-width="1"/>
<line x1="221.04" y1="208.57" x2="217.14" y2="211.70" stroke="#444" stroke-width="1"/>
<line x1="225.16" y1="212.47" x2="222.25" y2="216.53" stroke="#444" stroke-width="1"/>
<line x1="230.18" y1="215.12" x2="228.46" y2="219.81" stroke="#444" stroke-width="1"/>
<line x1="235.72" y1="216.33" x2="235.32" y2="221.32" stroke="#444" stroke-width="1"/>
<line x1="241.39" y1="216.02" x2="242.33" y2="220.93" stroke="#444" stroke-width="1"/>
<line x1="246.76" y1="214.20" x2="248.99" y2="218.67" stroke="#444" stroke-width="1"/>
<line x1="251.45" y1="211.01" x2="254.80" y2="214.72" stroke="#444" stroke-width="1"/>
<path d="M255.08,177.72 A25.0,25.0 0 1 0 255.08,213.08" fill="none" stroke="#aaa" stroke-width="0.5"/>
<circle cx="237.4" cy="195.6" r="5.2" stroke="#777"/>
<circle cx="237.4" cy="195.6" r="3" stroke="#999"/>
<line x1="237.4" y1="125" x2="237.4" y2="250" stroke="#777" stroke-width="0.5"/>
<line x1="194.8" y1="195.4" x2="295" y2="195.4" stroke="#999" stroke-width="0.4"/>
<rect x="260.2" y="176" width="20.4" height="39" fill="#fff" stroke="#555"/>
<rect x="280.6" y="179.2" width="5" height="32" stroke="#666"/>
<path d="M285.6,180 C289,185 289,206 285.6,211" stroke="#666"/>
<rect x="264" y="168.8" width="10.6" height="4.4" fill="#333" stroke="#222"/>
<line x1="263" y1="173.5" x2="275.5" y2="173.5" stroke="#888"/>
<!-- dims right -->
<line x1="199" y1="150" x2="199" y2="241" marker-start="url(#ar)" marker-end="url(#ar)"/>
<line x1="203.8" y1="150" x2="203.8" y2="195" marker-start="url(#ar)" marker-end="url(#ar)"/>
<line x1="197" y1="149.8" x2="210" y2="149.8"/>
<line x1="197" y1="241.2" x2="210" y2="241.2"/>
<line x1="208.6" y1="197" x2="208.6" y2="249"/>
<line x1="287.6" y1="215" x2="287.6" y2="249"/>
<line x1="208.8" y1="247.2" x2="237.2" y2="247.2" marker-start="url(#ar)" marker-end="url(#ar)"/>
<line x1="237.6" y1="247.2" x2="287.4" y2="247.2" marker-start="url(#ar)" marker-end="url(#ar)"/>
</g>
<g fill="#111" font-family="Liberation Sans, sans-serif" stroke="#111" stroke-width="0.12">
<text x="183.6" y="49.2" font-size="7.8">G</text>
<text x="186.4" y="56" font-size="6.8">D4</text>
<text x="186.4" y="65.1" font-size="6.8">D1</text>
<text x="154.2" y="77" font-size="7.6">D3</text>
<text x="159.6" y="117.6" font-size="6.8">D2</text>
<text x="180.6" y="131.7" font-size="8.4">K</text>
<text x="129.6" y="111.3" font-size="7.6">M</text>
<text x="112.2" y="133" font-size="7.4">B3</text>
<text x="110.2" y="248.7" font-size="6.6">H2</text>
<text x="160.6" y="248.7" font-size="6.6">H1</text>
<text x="123.4" y="254.1" font-size="6.2">H3</text>
<text x="180" y="195.3" font-size="8.4">K</text>
<text x="228.8" y="132.9" font-size="7.6">G</text>
<text x="222.3" y="247.1" font-size="6.4">B1</text>
<text x="261.8" y="247.1" font-size="6.4">B2</text>
<text transform="translate(199.8,187.6) rotate(-90)" font-size="6.4">L1</text>
<text transform="translate(204.6,172.6) rotate(-90)" font-size="6.4">L2</text>
</g>
<g fill="none" stroke="#222" stroke-width="0.7">
<path d="M190.8,43.6 h6.4 v5.6 M190.8,43.6 v5.6 M194,42 l-1,1.6 M192.7,45.4 h2.8 v2.4 h-2.8 z"/>
<path d="M187.2,126 h6.4 v5.8 M187.2,126 v5.8 M190.4,124.4 l-1,1.6 M189,127.8 h2.8 v2.4 h-2.8 z"/>
</g>
</svg>
<svg style="left:0;top:0" width="1000" height="1000" viewBox="0 0 1000 1000">
<defs>
<linearGradient id="gCylH" x1="0" x2="1" y1="0" y2="0">
<stop offset="0" stop-color="#9a9a9a"/><stop offset="0.45" stop-color="#e2e2e2"/><stop offset="0.75" stop-color="#d0d0d0"/><stop offset="1" stop-color="#a8a8a8"/>
</linearGradient>
<linearGradient id="gMotor" x1="0" x2="1" y1="0" y2="0">
<stop offset="0" stop-color="#9c9c9c"/><stop offset="0.45" stop-color="#c8c8c8"/><stop offset="1" stop-color="#b8b8b8"/>
</linearGradient>
<linearGradient id="gFace" x1="0" x2="1" y1="0" y2="0">
<stop offset="0" stop-color="#f2f2f2"/><stop offset="0.6" stop-color="#d6d6d6"/><stop offset="1" stop-color="#b0b0b0"/>
</linearGradient>
<linearGradient id="gTube" x1="0" x2="1" y1="0" y2="0">
<stop offset="0" stop-color="#b5b5b5"/><stop offset="0.5" stop-color="#f0f0f0"/><stop offset="1" stop-color="#b0b0b0"/>
</linearGradient>
<linearGradient id="gBoxDark" x1="0" x2="1" y1="0" y2="0">
<stop offset="0" stop-color="#9a9a9a"/><stop offset="0.5" stop-color="#c4c4c4"/><stop offset="1" stop-color="#8a8a8a"/>
</linearGradient>
<linearGradient id="gRecess" x1="0" x2="0" y1="0" y2="1">
<stop offset="0" stop-color="#b0b0b0"/><stop offset="1" stop-color="#5a5a5a"/>
</linearGradient>
<linearGradient id="gCap" x1="0" x2="0" y1="0" y2="1">
<stop offset="0" stop-color="#e2e2e2"/><stop offset="0.5" stop-color="#c4c4c4"/><stop offset="1" stop-color="#8c8c8c"/>
</linearGradient>
<linearGradient id="gHouse" x1="0" x2="1" y1="0" y2="0">
<stop offset="0" stop-color="#b8b8b8"/><stop offset="0.5" stop-color="#e4e4e4"/><stop offset="1" stop-color="#a8a8a8"/>
</linearGradient>
<linearGradient id="gSide2" x1="0" x2="0" y1="0" y2="1">
<stop offset="0" stop-color="#8a8a8a"/><stop offset="1" stop-color="#d8d8d8"/>
</linearGradient>
<linearGradient id="gRec2" x1="0" x2="0" y1="0" y2="1">
<stop offset="0" stop-color="#6a6a6a"/><stop offset="0.55" stop-color="#b8b8b8"/><stop offset="1" stop-color="#e6e6e6"/>
</linearGradient>
<linearGradient id="gCover" x1="0" x2="1" y1="0" y2="0">
<stop offset="0" stop-color="#e4e4e4"/><stop offset="0.5" stop-color="#c2c2c2"/><stop offset="1" stop-color="#8a8a8a"/>
</linearGradient>
<linearGradient id="gH5L" x1="0" x2="1" y1="0" y2="0">
<stop offset="0" stop-color="#a8a8a8"/><stop offset="1" stop-color="#d8d8d8"/>
</linearGradient>
<linearGradient id="gH5R" x1="0" x2="1" y1="0" y2="0">
<stop offset="0" stop-color="#e6e6e6"/><stop offset="1" stop-color="#b4b4b4"/>
</linearGradient>
</defs>
<g stroke="#4a4a4a" stroke-width="0.7">
<!-- part 1 cap -->
<path d="M720,382 L720,385.5 C720,388 731.5,388 731.5,385.5 L731.5,382 Z" fill="url(#gCylH)"/>
<path d="M717.6,378.6 L717.6,381.5 C717.6,385 733.6,385 733.6,381.5 L733.6,378.6 Z" fill="url(#gCylH)"/>
<ellipse cx="725.6" cy="378.6" rx="8" ry="3.1" fill="#ededed"/>
<line x1="720.5" y1="377.6" x2="730.5" y2="379.6" stroke="#777" stroke-width="0.8"/>
<ellipse cx="725.6" cy="391.2" rx="7" ry="2.6" fill="none" stroke="#333" stroke-width="1.3"/>
<!-- collar below motor (drawn first) -->
<path d="M699.2,472 L699.2,477 C699.2,486.5 750.4,486.5 750.4,477 L750.4,472 Z" fill="#b4b4b4"/>
<ellipse cx="724.8" cy="472" rx="25.6" ry="7" fill="#cdcdcd"/>
<!-- part 9 motor -->
<path d="M694.4,408 L694.4,458 C699,468 711,474.5 727.2,474.8 L727,420 Z" fill="url(#gMotor)"/>
<path d="M726.4,423.6 L764.8,413.2 L764.8,461.2 L727.2,474.8 Z" fill="url(#gFace)"/>
<path d="M732,430 L760,422.5 L760,437 L732,445 Z" fill="#d0d0d0" stroke="#666" stroke-width="0.6"/>
<line x1="734" y1="434" x2="756" y2="428" stroke="#777" stroke-width="1.2"/>
<line x1="764.8" y1="413.2" x2="752" y2="410" />
<ellipse cx="723.2" cy="408.2" rx="28.8" ry="11.8" fill="#d8d8d8"/>
<ellipse cx="725" cy="408.2" rx="26.4" ry="10.5" fill="#d6d6d6" stroke="#555" stroke-width="0.7"/>
<ellipse cx="725.3" cy="407.6" rx="8.2" ry="3.6" fill="#fff" stroke="#666" stroke-width="0.6"/>
<g stroke="#3a3a3a" stroke-width="1.1" fill="none">
<path d="M705,400.5 L713,402.5 M704,403 L714,405.5 M707.5,399 L711,404"/>
<path d="M703,406.5 L711,409 M705,409.5 L716,412.5"/>
<path d="M726,412.5 L735,414 M737,411 L741,414 M741,408.5 L745,410"/>
<path d="M721,401 L727,401.5 M730,400 L734,401"/>
</g>
<path d="M685,456 L694.4,452 L694.4,466 L686,466 Z" fill="#aaa"/>
<rect x="685" y="439" width="7.5" height="9" rx="1.5" fill="#ddd"/>
<rect x="719.5" y="457" width="6" height="9" rx="1.5" fill="#e6e6e6"/>
<circle cx="760" cy="420" r="1.1" fill="#222" stroke="none"/>
<circle cx="760" cy="438" r="1.1" fill="#222" stroke="none"/>
<circle cx="732" cy="431" r="1.1" fill="#222" stroke="none"/>
<circle cx="732" cy="449" r="1.1" fill="#222" stroke="none"/>
<!-- part 8 tube + flange -->
<path d="M710,484 L739.6,484 L739.6,521 C742,526 750,528 756.4,530 L692.4,530 C698,528 707,526 710,521 Z" fill="url(#gTube)"/>
<ellipse cx="724.8" cy="484.5" rx="14.8" ry="3.2" fill="#ddd"/>
<line x1="711" y1="488" x2="738.6" y2="488" stroke="#999" stroke-width="0.6"/>
<path d="M692.4,530.4 L692.4,533.5 C692.4,540 756.4,540 756.4,533.5 L756.4,530.4 Z" fill="#9a9a9a"/>
<path d="M692.4,530.4 C692.4,519 756.4,519 756.4,530.4 C756.4,541.5 692.4,541.5 692.4,530.4 Z" fill="#d4d4d4"/>
<path d="M710,521 L739.6,521 L739.6,527 C742,532 707,532 710,527 Z" fill="url(#gTube)" stroke="none"/>
<ellipse cx="724.4" cy="531" rx="22" ry="6.5" fill="none" stroke="#999" stroke-width="0.5"/>
<!-- shaft + rotor part 7 -->
<rect x="717.2" y="544" width="14.4" height="5" rx="1.5" fill="#eee"/>
<rect x="719.5" y="549" width="10" height="9" fill="url(#gCylH)"/>
<path d="M709.2,558.5 L709.2,584 C709.2,589 738.8,589 738.8,584 L738.8,558.5 Z" fill="url(#gCylH)"/>
<ellipse cx="724" cy="558.5" rx="14.8" ry="3.4" fill="#e8e8e8"/>
<path d="M715.6,587 L715.6,595 C715.6,599 734,599 734,595 L734,587 Z" fill="url(#gCylH)"/>
<path d="M716.5,593 C716.5,598.5 733,598.5 733,593 L733,596 C733,601 716.5,601 716.5,596 Z" fill="#333"/>
<!-- part 6 -->
<path d="M696.4,612 L696.4,628 C696.4,636 750.8,636 750.8,628 L750.8,612 Z" fill="url(#gHouse)"/>
<path d="M690,605 L690,612 C690,622 757.2,622 757.2,612 L757.2,605 Z" fill="#b0b0b0"/>
<line x1="690" y1="609" x2="757.2" y2="609" stroke="#666" stroke-width="0.6"/>
<ellipse cx="723.6" cy="604" rx="33.4" ry="12.6" fill="#d0d0d0"/>
<ellipse cx="724" cy="601.4" rx="30.6" ry="11.6" fill="#ececec"/>
<path d="M716.5,591 C716.5,596.5 733,596.5 733,591 L733,596 C733,601 716.5,601 716.5,596 Z" fill="#333"/>
<circle cx="717.5" cy="603.5" r="0.9" fill="#333" stroke="none"/>
<circle cx="729.5" cy="603.5" r="0.9" fill="#333" stroke="none"/>
<!-- O ring -->
<ellipse cx="724.4" cy="643.6" rx="14.8" ry="6.2" fill="#eee" stroke="#333" stroke-width="1.4"/>
<ellipse cx="724.4" cy="643" rx="11" ry="4.2" fill="#fff" stroke="#555" stroke-width="0.7"/>
<!-- part 5 housing -->
<path d="M685,669 L724.3,686 L724.3,709.5 L708,709 L686,692 Z" fill="url(#gH5L)"/>
<path d="M724.3,686 L761.1,669.2 L762,690 L730,709 L724.3,709.5 Z" fill="url(#gH5R)"/>
<path d="M685,669 C685,667 686,666.5 688,665.6 L721,653.3 C723,652.6 725.6,652.6 727.6,653.3 L758.5,665.8 C760.5,666.6 761.1,667.5 761.1,669.2 L728,685 C726,686.4 722.6,686.4 720.6,685 Z" fill="#d6d6d6"/>
<ellipse cx="724" cy="671" rx="31" ry="14.2" fill="#c9c9c9" stroke="#777" stroke-width="0.6"/>
<ellipse cx="724.3" cy="672.5" rx="27" ry="12" fill="#e2e2e2" stroke="#999" stroke-width="0.5"/>
<ellipse cx="724.5" cy="674.5" rx="22" ry="9.4" fill="#c4c4c4" stroke="#888" stroke-width="0.5"/>
<ellipse cx="724.7" cy="677" rx="16.5" ry="6.8" fill="#dcdcdc" stroke="#999" stroke-width="0.5"/>
<ellipse cx="724.9" cy="682.4" rx="12" ry="3.4" fill="#a8a8a8" stroke="#666" stroke-width="0.5"/>
<circle cx="688" cy="670" r="1" fill="#333" stroke="none"/>
<circle cx="724.3" cy="654.2" r="1" fill="#333" stroke="none"/>
<circle cx="760.4" cy="670" r="1" fill="#333" stroke="none"/>
<circle cx="724.3" cy="686.5" r="1" fill="#333" stroke="none"/>
<path d="M718.6,687.5 L730.6,687 L730.6,705 L718.6,705.5 Z" fill="#f6f6f6" stroke="#999" stroke-width="0.5"/>
<path d="M731,697 C740,692 750,689.5 760,688" stroke="#999" fill="none" stroke-width="0.5"/>
<rect x="746" y="691" width="4" height="1.5" fill="#777" stroke="none"/>
<ellipse cx="763.5" cy="669.4" rx="10" ry="13.2" fill="#5e5b5b" stroke="#333"/>
<ellipse cx="762" cy="669.4" rx="6.6" ry="10" fill="#8a8686" stroke="#444" stroke-width="0.5"/>
<ellipse cx="692.8" cy="699.6" rx="11" ry="13.4" fill="#5e5b5b" stroke="#333"/>
<ellipse cx="694.2" cy="699.8" rx="7.2" ry="10" fill="#6e6666" stroke="#444" stroke-width="0.5"/>
<!-- part 2 terminal box -->
<path d="M816,461 L826.8,460.8 C828,461 828,476 826.8,476.4 L816,477 Z" fill="#8a8a8a" stroke="#555" stroke-width="0.5"/>
<path d="M770,459 C770,453 774,451 779,450 L811,446.3 C815.5,445.8 818,447.5 818,451 L818,495.5 L784,506 L773,506.2 C771,506.2 770,505 770,503 Z" fill="#6e6e6e" stroke="#444" stroke-width="0.6"/>
<path d="M770.8,461 L781.8,462 L781.8,505 L771,504.5 Z" fill="url(#gSide2)" stroke="none"/>
<path d="M782,462 L808.5,455.5 L808.5,479 L782,484.5 Z" fill="#8c8c8c" stroke="#555" stroke-width="0.4"/>
<path d="M782.5,484.5 L808.5,479 L808.5,497 L782.5,503.5 Z" fill="url(#gRec2)" stroke="#555" stroke-width="0.4"/>
<path d="M784,463.5 L806,458" stroke="#bbb" stroke-width="1.6" stroke-dasharray="1 1"/>
<circle cx="790" cy="475" r="1.6" fill="none" stroke="#444" stroke-width="0.5"/>
<circle cx="797" cy="470" r="1.2" fill="#555" stroke="none"/>
<circle cx="805" cy="468" r="1.2" fill="#ddd" stroke="none"/>
<path d="M795,466 L806,464 M795,476 L806,473.5" stroke="#555" stroke-width="0.6"/>
<!-- part 3 cover -->
<path d="M793.7,531 C793.7,527 798,526 800,525.5 L830,518.6 C834,518 837.6,519 837.6,523 L837.6,563.9 L803,576.5 L796,576.5 C794.5,576.5 793.7,575.5 793.7,574 Z" fill="url(#gCover)" stroke="#555" stroke-width="0.6"/>
<path d="M793.7,531 L803.6,533 L803.6,576.5 L796,576.5 C794.5,576.5 793.7,575.5 793.7,574 Z" fill="#d2d2d2" stroke="none"/>
<path d="M793.7,531 C793.7,527 798,526 800,525.5 L830,518.6 C834,518 837.6,519 837.6,523 L837.6,525 L803.6,533.5 Z" fill="#5f5f5f" stroke="none"/>
<rect x="809" y="527.5" width="2.5" height="3.5" fill="#eee" stroke="none" transform="skewY(-14) translate(0,202)"/>
<rect x="814" y="526.3" width="2.5" height="3.5" fill="#eee" stroke="none" transform="skewY(-14) translate(0,203.5)"/>
<path d="M805,538 C805,534.5 810,533.5 812.5,536.5 C815,533 820.5,534 820.5,538 C820.5,543.5 813,549.5 812.5,550.5 C811.5,549 805,543.5 805,538 Z" fill="#a8a8a8" stroke="#666" stroke-width="0.6"/>
<circle cx="820" cy="546" r="2" fill="none" stroke="#777" stroke-width="0.6"/>
<line x1="826" y1="550" x2="834" y2="551.5" stroke="#aaa" stroke-width="1.2"/>
<circle cx="835" cy="552" r="1.5" fill="#555" stroke="#333" stroke-width="0.4"/>
<rect x="792" y="543" width="1.8" height="10" fill="#eee" stroke="#777" stroke-width="0.4"/>
<!-- part 4 capacitor -->
<path d="M783,592 L809,587.8 C816.5,587.2 816.5,609.5 809,610 L783,614 Z" fill="url(#gCap)" stroke="#555" stroke-width="0.6"/>
<ellipse cx="783.5" cy="603" rx="6.5" ry="11.2" fill="#b0b0b0" stroke="#444" stroke-width="0.7"/>
<ellipse cx="783.5" cy="603" rx="4.5" ry="8.4" fill="#c8c8c8" stroke="#666" stroke-width="0.5"/>
<path d="M781,602 L786,601 M781,605 L785,604.5" stroke="#444" stroke-width="0.7"/>
</g>
<!-- leaders -->
<g stroke="#999" stroke-width="0.6" fill="none">
<line x1="754.4" y1="348.4" x2="732" y2="375.6"/>
<line x1="667.2" y1="405.2" x2="704" y2="438.8"/>
<line x1="837.6" y1="430.8" x2="817.2" y2="452.4"/>
<line x1="674" y1="504.8" x2="692.4" y2="525.6"/>
<line x1="855.6" y1="502.8" x2="836.4" y2="525.6"/>
<line x1="686.8" y1="572" x2="707.6" y2="589.6"/>
<line x1="669.2" y1="632.8" x2="696.4" y2="626.4"/>
<line x1="826.8" y1="631.2" x2="806.4" y2="610.8"/>
<line x1="776.4" y1="712.8" x2="758.8" y2="692"/>
</g>
<g fill="#1a1a1a" font-family="Liberation Sans, sans-serif" font-size="16.6" text-anchor="middle">
<text x="759.4" y="349.2">1</text>
<text x="660.8" y="407.6">9</text>
<text x="845.4" y="432">2</text>
<text x="667.6" y="507.2">8</text>
<text x="861.6" y="504">3</text>
<text x="680" y="576">7</text>
<text x="660.8" y="640">6</text>
<text x="831" y="645.6">4</text>
<text x="786" y="720.8">5</text>
</g>
</svg>
<svg style="left:0;top:0" width="1000" height="1000" viewBox="0 0 1000 1000">
<defs>
<linearGradient id="bTop" gradientUnits="userSpaceOnUse" x1="740" y1="762" x2="730" y2="832">
<stop offset="0" stop-color="#8a8a8a"/><stop offset="1" stop-color="#9a9a9a"/>
</linearGradient>
<linearGradient id="bLeft" gradientUnits="userSpaceOnUse" x1="0" y1="800" x2="0" y2="905">
<stop offset="0" stop-color="#a9a9a9"/><stop offset="0.45" stop-color="#8e8c8c"/><stop offset="1" stop-color="#5a5858"/>
</linearGradient>
<linearGradient id="bRight" gradientUnits="userSpaceOnUse" x1="731" y1="880" x2="820" y2="830">
<stop offset="0" stop-color="#565454"/><stop offset="0.5" stop-color="#7c7a7a"/><stop offset="1" stop-color="#a8a8a8"/>
</linearGradient>
<linearGradient id="bTape" gradientUnits="userSpaceOnUse" x1="0" y1="808" x2="0" y2="845">
<stop offset="0" stop-color="#9a9a9a"/><stop offset="1" stop-color="#8a8a8a" stop-opacity="0"/>
</linearGradient>
</defs>
<!-- dimension lines -->
<g stroke="#b0b0b0" stroke-width="0.6" fill="none">
<line x1="635.5" y1="810" x2="635.5" y2="875"/>
<line x1="624" y1="811.6" x2="646.8" y2="799.6"/>
<line x1="625.2" y1="882.4" x2="649.2" y2="870.4"/>
<line x1="656.4" y1="890.8" x2="728.4" y2="928"/>
<line x1="739.2" y1="928" x2="816" y2="880"/>
<line x1="652.8" y1="872.8" x2="652.8" y2="901.6"/>
<line x1="733.2" y1="911" x2="733.2" y2="940"/>
<line x1="819.6" y1="863" x2="819.6" y2="888"/>
</g>
<!-- box faces -->
<path d="M650.4,797.6 L740.4,761.2 L819.6,790 L730.8,832 Z" fill="url(#bTop)"/>
<path d="M650.4,797.6 L730.8,832 L732,910 L651.6,872.8 Z" fill="url(#bLeft)"/>
<path d="M699,818 L730.8,832 L731,860 L699,846 Z" fill="#b2b2b2" opacity="0.45"/>
<path d="M730.8,832 L819.6,790 L819.6,859.6 L732,910 Z" fill="url(#bRight)"/>
<!-- tape band on top -->
<path d="M681,812.5 L788.6,776.4 L790.5,779.6 L688,815.8 Z" fill="#9c9c9c" opacity="0.75"/>
<!-- tape on left face -->
<path d="M680.5,810 L693.5,815 L694,842 L690,848 L684,840 L681,846 Z" fill="url(#bTape)"/>
<g stroke="#4e4e4e" stroke-width="1.1" fill="none">
<polyline points="693.9,779.6 776.5,813.9 776.5,886"/>
<polyline points="788.6,779.2 686.2,815.3 686.2,883"/>
</g>
<!-- fragile symbol -->
<g stroke="#3f3d3d" stroke-width="1.6" fill="none">
<path d="M695.2,845.5 L725.8,858.4 L726,896.5 L695.4,883.8 Z"/>
</g>
<g stroke="#3a3838" stroke-width="1.3" fill="none">
<path d="M702.3,853.2 L716.2,859 C716.2,866.5 713,870.5 709.3,869.6 C705,868.3 702,861 702.3,853.2 Z"/>
<line x1="709.3" y1="869.6" x2="709.3" y2="881"/>
<line x1="704.5" y1="879.5" x2="714" y2="883.5"/>
</g>
<path d="M704,857.5 L711,860.2 L708,862.8 L713.5,864.6" stroke="#cfcfcf" stroke-width="0.9" fill="none"/>
<!-- labels -->
<g fill="#111" font-family="Liberation Sans, sans-serif" font-weight="bold" font-style="italic" font-size="21">
<text x="613.6" y="852.4">H</text>
<text x="668.4" y="930.4">W</text>
<text x="780.6" y="924.4">L</text>
</g>
</svg>

</body></html>
